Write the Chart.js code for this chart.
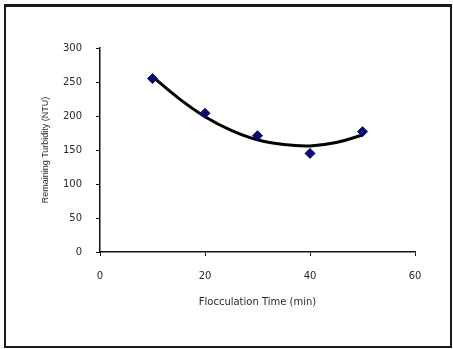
<!DOCTYPE html>
<html>
<head>
<meta charset="utf-8">
<script src="https://cdn.jsdelivr.net/npm/chart.js@4/dist/chart.umd.min.js"></script>
<style>
  html, body { margin: 0; padding: 0; background: #fff; }
  #wrap { position: relative; width: 453px; height: 349px; }
  #frame { position: absolute; left: 4px; top: 4px; width: 444px; height: 339px;
           border: 2px solid #1a1a1a; border-top-width: 3px; pointer-events: none; }
</style>
</head>
<body>
<div id="wrap">
  <canvas id="c" width="453" height="349"></canvas>
  <div id="frame"></div>
</div>
<script>
// measured points (min, NTU)
const timeMin = [10, 20, 30, 40, 50];
const turbidity = [255, 204, 171, 145, 177];

// trend curve
const trendX = [10, 15, 20, 25, 30, 35, 40, 45, 50];
const trendY = [258, 226, 199, 179, 165, 158, 156, 161, 172];

const xTicks = [0, 20, 40, 60];
const yTicks = [0, 50, 100, 150, 200, 250, 300];

const AXIS = '#111';
const TXT = '#2a2a2a';

new Chart(document.getElementById('c'), {
  type: 'scatter',
  data: {
    datasets: [
      {
        type: 'line',
        data: trendX.map((x, i) => ({ x, y: trendY[i] })),
        borderColor: '#000',
        borderWidth: 3,
        pointRadius: 0,
        tension: 0.4,
        fill: false,
        order: 2,
      },
      {
        data: timeMin.map((x, i) => ({ x, y: turbidity[i] })),
        pointStyle: 'rectRot',
        pointRadius: 5,
        backgroundColor: '#0a0a6e',
        borderColor: '#0a0a6e',
        order: 1,
      },
    ],
  },
  options: {
    responsive: false,
    animation: false,
    events: [],
    layout: { padding: { left: 40, top: 48, right: 38, bottom: 41 } },
    plugins: { legend: { display: false }, tooltip: { enabled: false } },
    scales: {
      x: {
        type: 'linear', min: 0, max: 60,
        afterBuildTicks: (s) => { s.ticks = xTicks.map(v => ({ value: v })); },
        afterFit: (s) => { s.height = 56; },
        border: { color: AXIS, width: 1.5 },
        grid: { drawOnChartArea: false, color: AXIS, tickLength: 4 },
        ticks: { color: TXT, padding: 14, font: { family: 'DejaVu Sans', size: 10 } },
        title: { display: true, text: 'Flocculation Time (min)', color: TXT,
                 padding: 0, font: { family: 'DejaVu Sans', size: 10 } },
      },
      y: {
        type: 'linear', min: 0, max: 300,
        afterBuildTicks: (s) => { s.ticks = yTicks.map(v => ({ value: v })); },
        afterFit: (s) => { s.width = 60; },
        border: { color: AXIS, width: 1.5 },
        grid: { drawOnChartArea: false, color: AXIS, tickLength: 4 },
        ticks: { color: TXT, padding: 14, font: { family: 'DejaVu Sans', size: 10 } },
        title: { display: true, text: 'Remaining Turbidity (NTU)', color: TXT,
                 padding: 0, font: { family: 'Liberation Sans', size: 9 } },
      },
    },
  },
});
</script>
</body>
</html>
